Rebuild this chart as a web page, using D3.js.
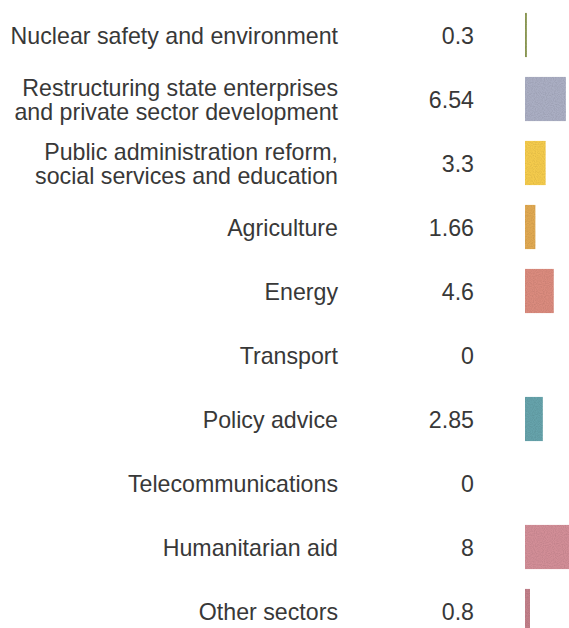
<!DOCTYPE html>
<html><head><meta charset="utf-8">
<script src="https://cdn.jsdelivr.net/npm/d3@7"></script>
<style>body{margin:0;background:#fff;}svg{display:block;}</style>
</head><body>
<script>
const categories = [
  ["Nuclear safety and environment"],
  ["Restructuring state enterprises","and private sector development"],
  ["Public administration reform,","social services and education"],
  ["Agriculture"],
  ["Energy"],
  ["Transport"],
  ["Policy advice"],
  ["Telecommunications"],
  ["Humanitarian aid"],
  ["Other sectors"]
];
const values = [0.3, 6.54, 3.3, 1.66, 4.6, 0, 2.85, 0, 8, 0.8];
const valueLabels = ["0.3","6.54","3.3","1.66","4.6","0","2.85","0","8","0.8"];
const colors = ["#8d9a55","#aaaec3","#f4cb4e","#e0a952","#da8b7e","#cccccc","#66a3ab","#cccccc","#d28e97","#c2808a"];

const W = 569, H = 628;
const svg = d3.select("body").append("svg").attr("width", W).attr("height", H);

const defs = svg.append("defs");
const f = defs.append("filter").attr("id","grain").attr("x",0).attr("y",0).attr("width",1).attr("height",1);
f.append("feTurbulence").attr("type","fractalNoise").attr("baseFrequency",0.9).attr("numOctaves",1).attr("seed",3).attr("result","n");
f.append("feColorMatrix").attr("in","n").attr("type","matrix")
  .attr("values","0 0 0 0 0  0 0 0 0 0  0 0 0 0 0  0 0 0 0.4 -0.15").attr("result","na");
f.append("feComposite").attr("in","na").attr("in2","SourceGraphic").attr("operator","in").attr("result","nc");
f.append("feMerge").call(m => { m.append("feMergeNode").attr("in","SourceGraphic"); m.append("feMergeNode").attr("in","nc"); });

const y = d3.scaleBand().domain(d3.range(values.length)).range([3, 643]).paddingInner(0.31).paddingOuter(0.155);
const x = d3.scaleLinear().domain([0, 8]).range([525, 575]);

const g = svg.selectAll("g.row").data(values).join("g").attr("class","row");

g.append("rect")
  .attr("x", x(0))
  .attr("y", (d,i) => y(i))
  .attr("width", d => x(d) - x(0))
  .attr("height", y.bandwidth())
  .attr("fill", (d,i) => colors[i])
  .attr("filter","url(#grain)");

const font = "'Liberation Sans', Arial, sans-serif";
g.each(function(d,i){
  const lines = categories[i];
  const cy = y(i) + y.bandwidth()/2 + 1;
  const lh = 24;
  const t = d3.select(this).append("text")
    .attr("text-anchor","end")
    .attr("font-family", font)
    .attr("font-size", 23.2)
    .attr("fill", "#383838");
  lines.forEach((l,k) => {
    t.append("tspan").attr("x", 338)
      .attr("y", cy + (k - (lines.length-1)/2)*lh)
      .attr("dy", "0.35em").text(l);
  });
  d3.select(this).append("text")
    .attr("x", 474).attr("y", cy).attr("dy","0.35em")
    .attr("text-anchor","end")
    .attr("font-family", font).attr("font-size", 23.2)
    .attr("fill", "#383838")
    .text(valueLabels[i]);
});
</script>
</body></html>
